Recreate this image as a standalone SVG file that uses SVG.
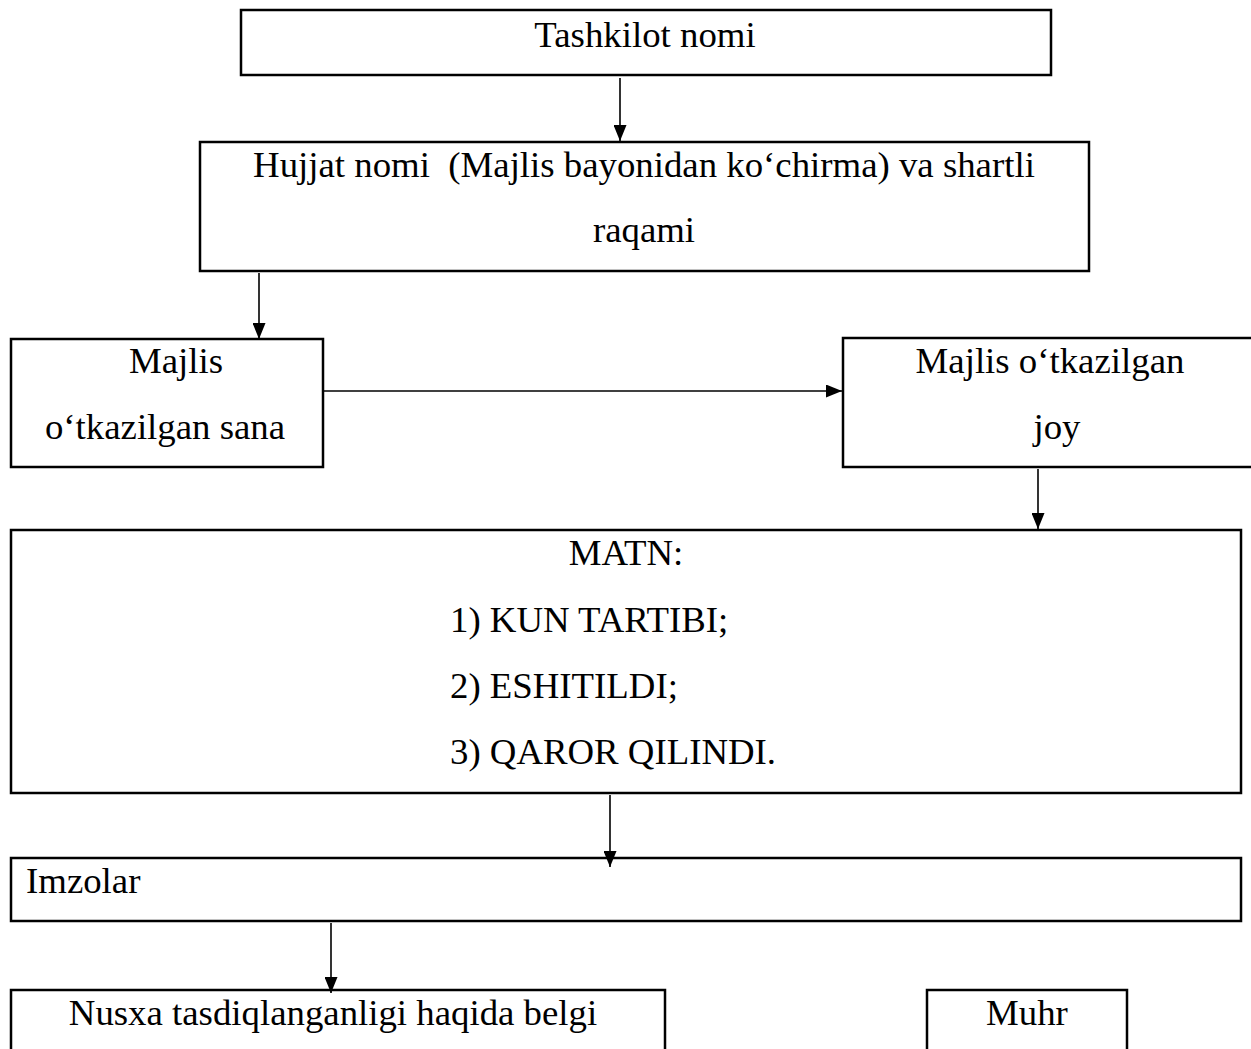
<svg xmlns="http://www.w3.org/2000/svg" width="1251" height="1049" viewBox="0 0 1251 1049">
  <style>
    .box { fill: #ffffff; stroke: #000000; stroke-width: 2.5; }
    .lbl { font-family: "Liberation Serif", "Times New Roman", serif; font-size: 36.8px; fill: #000000; white-space: pre; }
    .mid { text-anchor: middle; }
    .conn { stroke: #000000; stroke-width: 1.6; fill: none; marker-end: url(#arrow); }
  </style>
  <defs>
    <marker id="arrow" markerWidth="16" markerHeight="13" refX="16" refY="6.5" orient="auto" markerUnits="userSpaceOnUse" viewBox="0 0 16 13">
      <path d="M0,0 L16,6.5 L0,13 Z" fill="#000000"/>
    </marker>
  </defs>
  <rect width="1251" height="1049" fill="#ffffff"/>

  <g id="node-tashkilot">
    <rect class="box" x="241" y="10" width="810" height="65"/>
    <text class="lbl mid" x="645" y="47">Tashkilot nomi</text>
  </g>

  <g id="node-hujjat">
    <rect class="box" x="200" y="142" width="889" height="129"/>
    <text class="lbl mid" x="644" y="177">Hujjat nomi  (Majlis bayonidan ko‘chirma) va shartli</text>
    <text class="lbl mid" x="644" y="242">raqami</text>
  </g>

  <g id="node-sana">
    <rect class="box" x="11" y="339" width="312" height="128"/>
    <text class="lbl mid" x="176" y="373">Majlis</text>
    <text class="lbl mid" x="165" y="439">o‘tkazilgan sana</text>
  </g>

  <g id="node-joy">
    <rect class="box" x="843" y="338" width="420" height="129"/>
    <text class="lbl mid" x="1050" y="373">Majlis o‘tkazilgan</text>
    <text class="lbl mid" x="1057" y="439">joy</text>
  </g>

  <g id="node-matn">
    <rect class="box" x="11" y="530" width="1230" height="263"/>
    <text class="lbl mid" x="626" y="565">MATN:</text>
    <text class="lbl" x="450" y="632">1) KUN TARTIBI;</text>
    <text class="lbl" x="450" y="698">2) ESHITILDI;</text>
    <text class="lbl" x="450" y="764">3) QAROR QILINDI.</text>
  </g>

  <g id="node-imzolar">
    <rect class="box" x="11" y="858" width="1230" height="63"/>
    <text class="lbl" x="26" y="893">Imzolar</text>
  </g>

  <g id="node-nusxa">
    <rect class="box" x="11" y="990" width="654" height="80"/>
    <text class="lbl mid" x="333" y="1025">Nusxa tasdiqlanganligi haqida belgi</text>
  </g>

  <g id="node-muhr">
    <rect class="box" x="927" y="990" width="200" height="80"/>
    <text class="lbl mid" x="1027" y="1025">Muhr</text>
  </g>

  <g id="connectors">
    <line class="conn" x1="620" y1="78" x2="620" y2="141"/>
    <line class="conn" x1="259" y1="273" x2="259" y2="339"/>
    <line class="conn" x1="324" y1="391" x2="842" y2="391"/>
    <line class="conn" x1="1038" y1="469" x2="1038" y2="529"/>
    <line class="conn" x1="610" y1="795" x2="610" y2="867"/>
    <line class="conn" x1="331" y1="923" x2="331" y2="993"/>
  </g>
</svg>
